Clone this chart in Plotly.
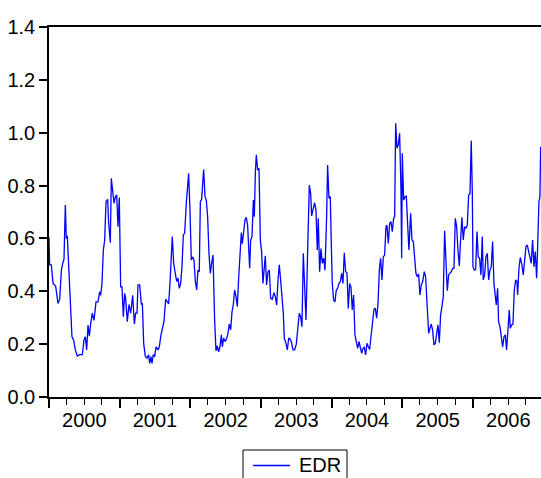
import plotly.graph_objects as go

# time offset (years since start of 2000) and EDR values
T = [0.000, 0.009, 0.033, 0.057, 0.094, 0.127, 0.151, 0.175, 0.198, 0.212, 0.231, 0.245, 0.259, 0.278,
     0.302, 0.325, 0.349, 0.373, 0.401, 0.434, 0.472, 0.495, 0.514, 0.533, 0.552, 0.571, 0.590, 0.613,
     0.637, 0.665, 0.693, 0.717, 0.731, 0.750, 0.769, 0.788, 0.807, 0.830, 0.844, 0.868, 0.882, 0.901,
     0.920, 0.939, 0.958, 0.976, 0.995, 1.014, 1.033, 1.052, 1.071, 1.085, 1.108, 1.132, 1.156, 1.184,
     1.208, 1.226, 1.245, 1.259, 1.283, 1.307, 1.321, 1.340, 1.363, 1.387, 1.410, 1.425, 1.443, 1.458,
     1.476, 1.495, 1.514, 1.542, 1.561, 1.585, 1.604, 1.627,
     1.651, 1.675, 1.693, 1.712, 1.726, 1.745, 1.764, 1.788, 1.807, 1.825, 1.844, 1.863, 1.882, 1.901,
     1.920, 1.943, 1.958, 1.976, 1.995, 2.014, 2.033, 2.052, 2.071, 2.090, 2.108, 2.127, 2.142, 2.160,
     2.189, 2.208, 2.226, 2.245, 2.264, 2.283, 2.302, 2.321, 2.344, 2.363, 2.382, 2.401, 2.420, 2.439,
     2.453, 2.472, 2.491, 2.509, 2.533, 2.552, 2.571, 2.590, 2.608, 2.627, 2.646, 2.665, 2.684, 2.703,
     2.722, 2.736, 2.755, 2.774, 2.792, 2.811, 2.825, 2.840, 2.854, 2.873, 2.892, 2.906, 2.920, 2.934,
     2.953, 2.972, 2.991, 3.009, 3.028, 3.042, 3.061, 3.080, 3.099, 3.118, 3.137, 3.160, 3.184, 3.203,
     3.222, 3.241, 3.259, 3.278, 3.297, 3.316, 3.330, 3.354, 3.373,
     3.392, 3.406, 3.429, 3.453, 3.476, 3.500, 3.524, 3.542, 3.561, 3.580, 3.599, 3.618, 3.637, 3.656,
     3.675, 3.684, 3.703, 3.717, 3.741, 3.759, 3.778, 3.797, 3.811, 3.830, 3.849, 3.868, 3.887, 3.906,
     3.929, 3.943, 3.962, 3.981, 3.995, 4.009, 4.028, 4.047, 4.066, 4.085, 4.104, 4.123, 4.142, 4.160,
     4.179, 4.198, 4.217, 4.236, 4.255, 4.274, 4.292, 4.311, 4.330, 4.349, 4.368, 4.387, 4.406, 4.425,
     4.443, 4.462, 4.481, 4.500, 4.519, 4.538, 4.557, 4.580, 4.599, 4.618, 4.637, 4.656, 4.675, 4.693,
     4.712, 4.731, 4.750, 4.769, 4.783, 4.802, 4.821, 4.840, 4.858, 4.877, 4.892, 4.906, 4.925, 4.943,
     4.962, 4.981, 4.991, 5.000, 5.019, 5.038, 5.057, 5.075, 5.094,
     5.118, 5.137, 5.156, 5.175, 5.193, 5.212, 5.231, 5.250, 5.269, 5.288, 5.311, 5.330, 5.349, 5.373,
     5.392, 5.410, 5.429, 5.448, 5.467, 5.486, 5.505, 5.524, 5.542, 5.561, 5.580, 5.599, 5.618, 5.637,
     5.656, 5.675, 5.693, 5.712, 5.731, 5.750, 5.769, 5.788, 5.807, 5.825, 5.844, 5.863, 5.882, 5.901,
     5.920, 5.939, 5.958, 5.976, 5.991, 6.000, 6.019, 6.038, 6.057, 6.075, 6.094, 6.113, 6.132, 6.146,
     6.165, 6.184, 6.203, 6.222, 6.241, 6.259, 6.278, 6.297, 6.316, 6.330, 6.349, 6.363, 6.382, 6.401,
     6.420, 6.439, 6.458, 6.476, 6.495, 6.514, 6.528, 6.547, 6.566, 6.585, 6.604, 6.623, 6.632, 6.651,
     6.670, 6.689, 6.712, 6.731, 6.750, 6.769, 6.788, 6.807, 6.825, 6.844, 6.863, 6.882, 6.901, 6.915,
     6.934, 6.948, 6.958]

EDR = [0.604, 0.50, 0.50, 0.43, 0.42, 0.354, 0.37, 0.48, 0.51, 0.52, 0.726, 0.60, 0.61, 0.507,
       0.405, 0.228, 0.215, 0.178, 0.155, 0.16, 0.16, 0.216, 0.228, 0.178, 0.272, 0.23, 0.277, 0.317,
       0.29, 0.36, 0.36, 0.398, 0.385, 0.43, 0.556, 0.594, 0.739, 0.748, 0.66, 0.584, 0.827, 0.79,
       0.733, 0.758, 0.765, 0.644, 0.755, 0.417, 0.417, 0.304, 0.392, 0.373, 0.285, 0.35, 0.317, 0.385,
       0.276, 0.317, 0.317, 0.424, 0.424, 0.35, 0.355, 0.203, 0.153, 0.147, 0.16, 0.127, 0.153, 0.127,
       0.16, 0.153, 0.19, 0.178, 0.19, 0.235, 0.26, 0.285,
       0.37, 0.362, 0.352, 0.43, 0.50, 0.607, 0.506, 0.455, 0.437, 0.45, 0.411, 0.43, 0.493, 0.613,
       0.62, 0.733, 0.796, 0.846, 0.708, 0.518, 0.53, 0.518, 0.437, 0.405, 0.48, 0.474, 0.739, 0.748,
       0.861, 0.758, 0.745, 0.682, 0.544, 0.468, 0.506, 0.537, 0.291, 0.175, 0.193, 0.171, 0.19, 0.235,
       0.19, 0.223, 0.21, 0.217, 0.241, 0.276, 0.254, 0.323, 0.348, 0.405, 0.38, 0.342, 0.449, 0.518,
       0.622, 0.58, 0.626, 0.67, 0.68, 0.65, 0.569, 0.487, 0.594, 0.607, 0.745, 0.682, 0.846, 0.916,
       0.859, 0.865, 0.594, 0.55, 0.43, 0.468, 0.534, 0.424, 0.474, 0.48, 0.373, 0.37, 0.395, 0.38,
       0.348, 0.443, 0.50, 0.443, 0.38, 0.317, 0.222, 0.203, 0.178,
       0.222, 0.222, 0.21, 0.178, 0.178, 0.2, 0.279, 0.317, 0.304, 0.266, 0.544, 0.38, 0.291, 0.506,
       0.682, 0.802, 0.77, 0.685, 0.714, 0.735, 0.708, 0.556, 0.676, 0.474, 0.562, 0.506, 0.525, 0.48,
       0.682, 0.878, 0.752, 0.758, 0.581, 0.43, 0.367, 0.36, 0.405, 0.411, 0.43, 0.437, 0.468, 0.43,
       0.546, 0.474, 0.47, 0.335, 0.43, 0.415, 0.329, 0.386, 0.235, 0.21, 0.184, 0.21, 0.19, 0.165,
       0.184, 0.188, 0.159, 0.203, 0.19, 0.18, 0.228, 0.291, 0.332, 0.336, 0.298, 0.354, 0.48, 0.525,
       0.443, 0.53, 0.537, 0.644, 0.65, 0.581, 0.657, 0.664, 0.626, 0.676, 0.682, 1.036, 0.941, 0.954,
       0.998, 0.79, 0.525, 0.922, 0.745, 0.758, 0.76, 0.657, 0.556,
       0.695, 0.594, 0.588, 0.525, 0.468, 0.455, 0.465, 0.386, 0.424, 0.437, 0.474, 0.455, 0.354, 0.241,
       0.26, 0.276, 0.254, 0.197, 0.203, 0.241, 0.273, 0.205, 0.31, 0.342, 0.38, 0.629, 0.518, 0.402,
       0.462, 0.468, 0.474, 0.487, 0.487, 0.676, 0.645, 0.556, 0.496, 0.594, 0.68, 0.594, 0.645, 0.638,
       0.65, 0.764, 0.77, 0.97, 0.77, 0.493, 0.48, 0.483, 0.626, 0.531, 0.525, 0.462, 0.607, 0.443,
       0.462, 0.531, 0.544, 0.443, 0.48, 0.493, 0.588, 0.43, 0.392, 0.348, 0.411, 0.285, 0.266, 0.216,
       0.19, 0.228, 0.235, 0.178, 0.266, 0.329, 0.26, 0.273, 0.276, 0.405, 0.443, 0.437, 0.386, 0.487,
       0.528, 0.506, 0.462, 0.512, 0.569, 0.575, 0.55, 0.52, 0.506, 0.594, 0.493, 0.55, 0.449, 0.563,
       0.739, 0.758, 0.947]

YEARS = [2000, 2001, 2002, 2003, 2004, 2005, 2006]
YEAR_LABELS = ["2000", "2001", "2002", "2003", "2004", "2005", "2006"]
Y_TICKS = [0.0, 0.2, 0.4, 0.6, 0.8, 1.0, 1.2, 1.4]
SERIES_NAME = "EDR"

x_vals = [2000 + t for t in T]
x_range = [2000, 2006.963]
FONT = "Liberation Sans, Arial, sans-serif"
FS = 20
LINE_COLOR = "#0000FF"

W, H = 541, 478
ML, MR, MT, MB = 49, 0, 27, 81
PW, PH = W - ML - MR, H - MT - MB


def px_to_paper(px, py):
    return (px - ML) / PW, (H - MB - py) / PH


fig = go.Figure()
fig.add_trace(go.Scatter(x=x_vals, y=EDR, mode="lines", name=SERIES_NAME, showlegend=False,
                         line=dict(color=LINE_COLOR, width=1.3), hoverinfo="skip"))
# invisible carrier trace for the year-label axis
fig.add_trace(go.Scatter(x=x_vals, y=EDR, mode="lines", xaxis="x2", showlegend=False,
                         line=dict(color="rgba(0,0,0,0)", width=0), hoverinfo="skip"))

quarters = [y + q / 4 for y in YEARS for q in (1, 2, 3)]

# legend box drawn below the plot (partly cut off by the bottom edge, as in the original)
bx0, by0 = px_to_paper(243, 450)
bx1, by1 = px_to_paper(347, 500)
lx0, ly = px_to_paper(253, 465.5)
lx1, _ = px_to_paper(290, 465.5)
tx, ty = px_to_paper(297, 465)

shapes = [
    dict(type="rect", xref="paper", yref="paper", x0=bx0, x1=bx1, y0=by0, y1=by1,
         line=dict(color="black", width=1), fillcolor="white", layer="above"),
    dict(type="line", xref="paper", yref="paper", x0=lx0, x1=lx1, y0=ly, y1=ly,
         line=dict(color=LINE_COLOR, width=1.3), layer="above"),
]
annotations = [
    dict(xref="paper", yref="paper", x=tx, y=ty, xanchor="left", yanchor="middle",
         text=SERIES_NAME, showarrow=False, font=dict(family=FONT, size=FS, color="black")),
]

fig.update_layout(
    width=W, height=H,
    margin=dict(l=ML, r=MR, t=MT, b=MB),
    paper_bgcolor="white", plot_bgcolor="white",
    font=dict(family=FONT, size=FS, color="black"),
    xaxis=dict(range=x_range, tickmode="array", tickvals=YEARS + [2007],
               showticklabels=False, ticks="outside", ticklen=9, tickwidth=1.5,
               tickcolor="black", showline=True, linecolor="black", linewidth=1.5,
               mirror=True, showgrid=False, zeroline=False,
               minor=dict(tickmode="array", tickvals=quarters, ticks="outside",
                          ticklen=6, tickwidth=1.2, tickcolor="black", showgrid=False)),
    xaxis2=dict(range=x_range, overlaying="x", anchor="y", side="bottom",
                tickmode="array", tickvals=[y + 0.5 for y in YEARS], ticktext=YEAR_LABELS,
                ticks="outside", ticklen=5, tickcolor="rgba(0,0,0,0)",
                showline=False, showgrid=False, zeroline=False,
                tickfont=dict(family=FONT, size=FS, color="black")),
    yaxis=dict(range=[0, 1.4], tickmode="array", tickvals=Y_TICKS, tickformat=".1f",
               ticks="outside", ticklen=8, tickwidth=1.5, tickcolor="black",
               showline=True, linecolor="black", linewidth=1.5,
               showgrid=False, zeroline=False,
               tickfont=dict(family=FONT, size=FS, color="black")),
    showlegend=False,
    shapes=shapes,
    annotations=annotations,
)

fig.write_html("out.html", config={"displayModeBar": False},
               post_script="document.body.style.margin='0';")
